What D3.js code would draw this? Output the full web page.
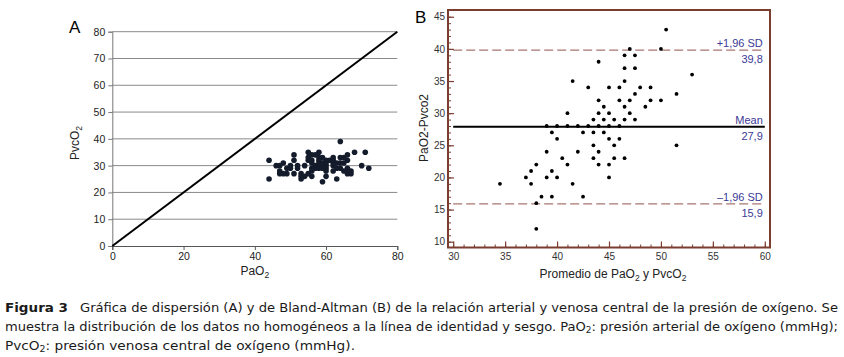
<!DOCTYPE html>
<html><head><meta charset="utf-8">
<script src="https://cdn.jsdelivr.net/npm/d3@7/dist/d3.min.js"></script>
<style>
html,body{margin:0;padding:0;background:#fff;}
svg{display:block;}
</style></head>
<body>
<svg id="c" width="844" height="357"></svg>
<script>
// Panel A: scatter PaO2 vs PvcO2
const paO2  = [72,67,70,66,67,63,65,66,71,59,64,60,62,63,65,66,64,68,60,62,63,65,66,60,62,64,56,59,60,62,58,59,60,61,62,53,54,55,56,57,58,59,60,53,56,57,58,53,58,59,56,58,64,51,54,56,52,55,57,58,49,52,55,56,48,50,47,49,50,55,44,47,51,47,48,51,46,44];
const pvcO2 = [29,27,30,27,28,25,28,29,35,24,29,26,28,29,31,32,31,35,28,30,31,33,34,29,31,33,26,29,30,32,29,30,31,32,33,25,26,27,28,29,30,31,32,26,29,30,31,27,32,33,31,33,39,27,30,32,29,32,34,35,27,30,33,34,27,29,27,29,30,35,25,28,32,30,31,34,30,32];
const aTicks = [0,10,20,30,40,50,60,70,80];
const aXTicks = [0,20,40,60,80];

// Panel B: Bland-Altman
const baMean = [50.5,47,50,46.5,47.5,44,46.5,47.5,53,41.5,46.5,43,45,46,48,49,47.5,51.5,44,46,47,49,50,44.5,46.5,48.5,41,44,45,47,43.5,44.5,45.5,46.5,47.5,39,40,41,42,43,44,45,46,39.5,42.5,43.5,44.5,40,45,46,43.5,45.5,51.5,39,42,44,40.5,43.5,45.5,46.5,38,41,44,45,37.5,39.5,37,39,40,45,34.5,37.5,41.5,38.5,39.5,42.5,38,38];
const baDiff = [43,40,40,39,39,38,37,37,36,35,35,34,34,34,34,34,33,33,32,32,32,32,32,31,31,31,30,30,30,30,29,29,29,29,29,28,28,28,28,28,28,28,28,27,27,27,27,26,26,26,25,25,25,24,24,24,23,23,23,23,22,22,22,22,21,21,20,20,20,20,19,19,19,17,17,17,16,12];
const bXTicks = [30,35,40,45,50,55,60];
const bYTicks = [10,15,20,25,30,35,40,45];
const refLines = [
  {value: 39.8, top: "+1,96 SD", bottom: "39,8", dashed: true},
  {value: 27.9, top: "Mean", bottom: "27,9", dashed: false},
  {value: 15.9, top: "\u20131,96 SD", bottom: "15,9", dashed: true}
];

const svg = d3.select("#c");
const tickFont = "'Liberation Sans', Arial, Helvetica, sans-serif";

// ---------- Panel A ----------
const xA = d3.scaleLinear().domain([0,80]).range([112.3,397.3]);
const yA = d3.scaleLinear().domain([0,80]).range([246,31.7]);
const gA = svg.append("g");
gA.selectAll("line.grid").data(aTicks.filter(d=>d>0)).enter().append("line")
  .attr("x1", xA(0)).attr("x2", xA(80))
  .attr("y1", d=>yA(d)).attr("y2", d=>yA(d))
  .attr("stroke","#8a8a8a").attr("stroke-width",1);
const yAxisA = d3.axisLeft(yA).tickValues(aTicks).tickSize(4).tickPadding(3);
const gyA = gA.append("g").attr("transform",`translate(${xA(0)},0)`).call(yAxisA);
gyA.select(".domain").attr("stroke","#777");
gyA.selectAll(".tick line").attr("stroke","#777");
gyA.selectAll("text").attr("font-family",tickFont).attr("font-size",10.5).attr("fill","#222");
const xAxisA = d3.axisBottom(xA).tickValues(aXTicks).tickSize(4).tickPadding(3);
const gxA = gA.append("g").attr("transform",`translate(0,${yA(0)})`).call(xAxisA);
gxA.select(".domain").attr("stroke","#555");
gxA.selectAll(".tick line").attr("stroke","#555");
gxA.selectAll("text").attr("font-family",tickFont).attr("font-size",10.5).attr("fill","#222");
gA.append("line").attr("x1",xA(0)).attr("y1",yA(0)).attr("x2",xA(80)).attr("y2",yA(80))
  .attr("stroke","#000").attr("stroke-width",2);
gA.selectAll("circle").data(paO2.map((d,i)=>[d,pvcO2[i]])).enter().append("circle")
  .attr("cx",d=>xA(d[0])).attr("cy",d=>yA(d[1])).attr("r",2.8).attr("fill","#141c2c");
gA.append("text").attr("x",69).attr("y",33).attr("font-family",tickFont).attr("font-size",17).text("A");
const ylabA = gA.append("text").attr("transform",`translate(79,143) rotate(-90)`)
  .attr("text-anchor","middle").attr("font-family",tickFont).attr("font-size",12).attr("fill","#222");
ylabA.append("tspan").text("PvcO");
ylabA.append("tspan").attr("font-size",8.5).attr("dy",3).text("2");
const xlabA = gA.append("text").attr("x",xA(40)).attr("y",275)
  .attr("text-anchor","middle").attr("font-family",tickFont).attr("font-size",12).attr("fill","#222");
xlabA.append("tspan").text("PaO");
xlabA.append("tspan").attr("font-size",8.5).attr("dy",3).text("2");

// ---------- Panel B ----------
const brown = "#7a3d30";
const xB = d3.scaleLinear().domain([29.5,60.5]).range([448,770]);
const yB = d3.scaleLinear().domain([9.1,46.05]).range([247.5,10]);
const gB = svg.append("g");
const xMinor = d3.range(30,61,1);
const yMinor = d3.range(10,46,1);
const xAxisB = d3.axisBottom(xB).tickValues(xMinor).tickSizeInner(-3).tickSizeOuter(0).tickFormat("");
const gxBm = gB.append("g").attr("transform",`translate(0,${yB.range()[0]})`).call(xAxisB);
gxBm.select(".domain").remove();
gxBm.selectAll(".tick line").attr("stroke",brown);
const xAxisBM = d3.axisBottom(xB).tickValues(bXTicks).tickSizeInner(-6).tickSizeOuter(0).tickPadding(5);
const gxB = gB.append("g").attr("transform",`translate(0,${yB.range()[0]})`).call(xAxisBM);
gxB.select(".domain").remove();
gxB.selectAll(".tick line").attr("stroke",brown).attr("stroke-width",1.2);
gxB.selectAll("text").attr("font-family",tickFont).attr("font-size",10).attr("fill","#333");
const yAxisBm = d3.axisLeft(yB).tickValues(yMinor).tickSizeInner(-3).tickSizeOuter(0).tickFormat("");
const gyBm = gB.append("g").attr("transform",`translate(${xB.range()[0]},0)`).call(yAxisBm);
gyBm.select(".domain").remove();
gyBm.selectAll(".tick line").attr("stroke",brown);
const yAxisBM = d3.axisLeft(yB).tickValues(bYTicks).tickSizeInner(-6).tickSizeOuter(0).tickPadding(3);
const gyB = gB.append("g").attr("transform",`translate(${xB.range()[0]},0)`).call(yAxisBM);
gyB.select(".domain").remove();
gyB.selectAll(".tick line").attr("stroke",brown).attr("stroke-width",1.2);
gyB.selectAll("text").attr("font-family",tickFont).attr("font-size",10).attr("fill","#333");
gB.selectAll("line.ref").data(refLines).enter().append("line")
  .attr("x1",xB(30)).attr("x2",xB(60))
  .attr("y1",d=>yB(d.value)).attr("y2",d=>yB(d.value))
  .attr("stroke",d=>d.dashed?"#a87570":"#000")
  .attr("stroke-width",d=>d.dashed?1.3:2)
  .attr("stroke-dasharray",d=>d.dashed?"9,4":null);
gB.selectAll("text.rt").data(refLines).enter().append("text")
  .attr("x",xB(60)-2).attr("y",d=>yB(d.value)-3)
  .attr("text-anchor","end").attr("font-family",tickFont).attr("font-size",11).attr("fill","#3b3a96")
  .text(d=>d.top);
gB.selectAll("text.rb").data(refLines).enter().append("text")
  .attr("x",xB(60)-2).attr("y",d=>yB(d.value)+13)
  .attr("text-anchor","end").attr("font-family",tickFont).attr("font-size",11).attr("fill","#3b3a96")
  .text(d=>d.bottom);
gB.selectAll("circle").data(baMean.map((d,i)=>[d,baDiff[i]])).enter().append("circle")
  .attr("cx",d=>xB(d[0])).attr("cy",d=>yB(d[1])).attr("r",1.9).attr("fill","#000");
gB.append("rect").attr("x",xB.range()[0]).attr("y",yB.range()[1])
  .attr("width",xB.range()[1]-xB.range()[0]).attr("height",yB.range()[0]-yB.range()[1])
  .attr("fill","none").attr("stroke",brown).attr("stroke-width",2);
gB.append("text").attr("x",415).attr("y",23).attr("font-family",tickFont).attr("font-size",17).text("B");
gB.append("text").attr("transform",`translate(428,128) rotate(-90)`)
  .attr("text-anchor","middle").attr("font-family",tickFont).attr("font-size",12).attr("fill","#222")
  .text("PaO2-Pvco2");
const xlabB = gB.append("text").attr("x",613).attr("y",278)
  .attr("text-anchor","middle").attr("font-family",tickFont).attr("font-size",12).attr("fill","#222");
xlabB.append("tspan").text("Promedio de PaO");
xlabB.append("tspan").attr("font-size",8.5).attr("dy",3).text("2");
xlabB.append("tspan").attr("dy",-3).text(" y PvcO");
xlabB.append("tspan").attr("font-size",8.5).attr("dy",3).text("2");

// ---------- Caption ----------
const capFont = "'Liberation Sans Narrow','DejaVu Sans Condensed','Arial Narrow',sans-serif";
const cap = svg.append("g").attr("font-family",capFont).attr("font-size",13).attr("fill","#1a1a1a");
cap.append("text").attr("x",5).attr("y",312).attr("font-weight","bold")
  .attr("textLength",63).attr("lengthAdjust","spacingAndGlyphs").text("Figura 3");
cap.append("text").attr("x",80).attr("y",312).attr("textLength",758).attr("lengthAdjust","spacingAndGlyphs")
  .text("Gráfica de dispersión (A) y de Bland-Altman (B) de la relación arterial y venosa central de la presión de oxígeno. Se");
const l2 = cap.append("text").attr("x",5).attr("y",331).attr("textLength",833).attr("lengthAdjust","spacingAndGlyphs");
l2.append("tspan").text("muestra la distribución de los datos no homogéneos a la línea de identidad y sesgo. PaO");
l2.append("tspan").attr("font-size",9).attr("dy",2).text("2");
l2.append("tspan").attr("dy",-2).text(": presión arterial de oxígeno (mmHg);");
const l3 = cap.append("text").attr("x",5).attr("y",350).attr("textLength",350).attr("lengthAdjust","spacingAndGlyphs");
l3.append("tspan").text("PvcO");
l3.append("tspan").attr("font-size",9).attr("dy",2).text("2");
l3.append("tspan").attr("dy",-2).text(": presión venosa central de oxígeno (mmHg).");
</script>
</body></html>
